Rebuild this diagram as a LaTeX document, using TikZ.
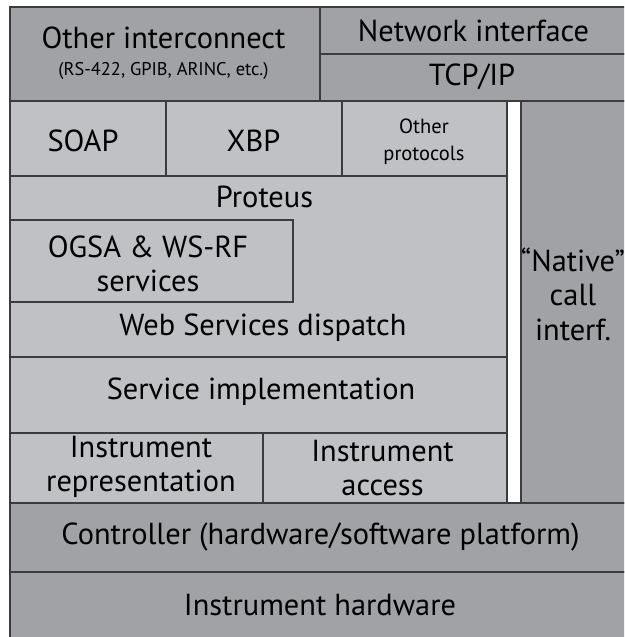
\documentclass[tikz,border=0pt]{standalone}
\usepackage{fontspec}
\setmainfont{PT Sans}
\usetikzlibrary{fit}
\definecolor{darkg}{RGB}{161,162,166}
\definecolor{lightg}{RGB}{192,193,197}
\definecolor{linec}{RGB}{60,60,62}
\tikzset{
  blk/.style={draw=linec, line width=1.3pt, inner sep=0pt},
  dk/.style={blk, fill=darkg},
  lt/.style={blk, fill=lightg},
  lbl/.style={inner sep=0pt, align=center, text=black},
  big/.style={lbl, font=\fontsize{30.4}{34.5}\selectfont},
  small/.style={lbl, font=\fontsize{18.4}{26}\selectfont},
  smaller/.style={lbl, font=\fontsize{20.5}{27}\selectfont}
}
\begin{document}
\begin{tikzpicture}[x=1pt,y=-1pt]
\useasboundingbox (0,0) rectangle (624,637);
\fill[white] (0,0) rectangle (624,637);
\clip (0,0) rectangle (624,637);
% boxes
\node[dk, fit={(10,7) (320,101)}] (other) {};
\node[dk, fit={(320,7) (630,54)}] (net) {};
\node[dk, fit={(320,54) (630,101)}] (tcp) {};
\node[lt, fit={(10,101) (166,176)}] (soap) {};
\node[lt, fit={(166,101) (342,176)}] (xbp) {};
\node[lt, fit={(342,101) (507,176)}] (oprot) {};
\node[lt, fit={(10,176) (507,357)}] (proteus) {};
\node[lt, fit={(10,220) (293,302)}] (ogsa) {};
\node[lt, fit={(10,357) (507,433)}] (simpl) {};
\node[lt, fit={(10,433) (263,503)}] (irep) {};
\node[lt, fit={(263,433) (507,503)}] (iacc) {};
\node[dk, fit={(521,101) (628,503)}] (native) {};
\node[dk, fit={(10,503) (630,572)}] (ctrl) {};
\node[dk, fit={(10,572) (630,645)}] (hw) {};
% labels
\node[big] (otherT) at (163.5,38) {Other interconnect};
\node[small] (otherS) at (163.5,71) {(RS-422, GPIB, ARINC, etc.)};
\node[big] (netT) at (473.5,31) {Network interface};
\node[big] (tcpT) at (472,77) {TCP/IP};
\node[big] (soapT) at (83,141) {SOAP};
\node[big] (xbpT) at (253.5,141) {XBP};
\node[smaller] (oprotT) at (424,142) {Other\\protocols};
\node[big] (proteusT) at (264.5,197) {Proteus};
\node[big] (ogsaT) at (148,264) {OGSA \& WS-RF\\services};
\node[big] (wsdT) at (263,328) {Web Services dispatch};
\node[big] (simplT) at (261,392) {Service implementation};
\node[big] (irepT) at (141,467) {Instrument\\representation};
\node[big] (iaccT) at (382.5,468) {Instrument\\access};
\node[big] (nativeT) at (573,294) {``Native''\\call\\interf.};
\node[big] (ctrlT) at (320.5,537) {Controller (hardware/software platform)};
\node[big] (hwT) at (320,605) {Instrument hardware};
\end{tikzpicture}
\end{document}
